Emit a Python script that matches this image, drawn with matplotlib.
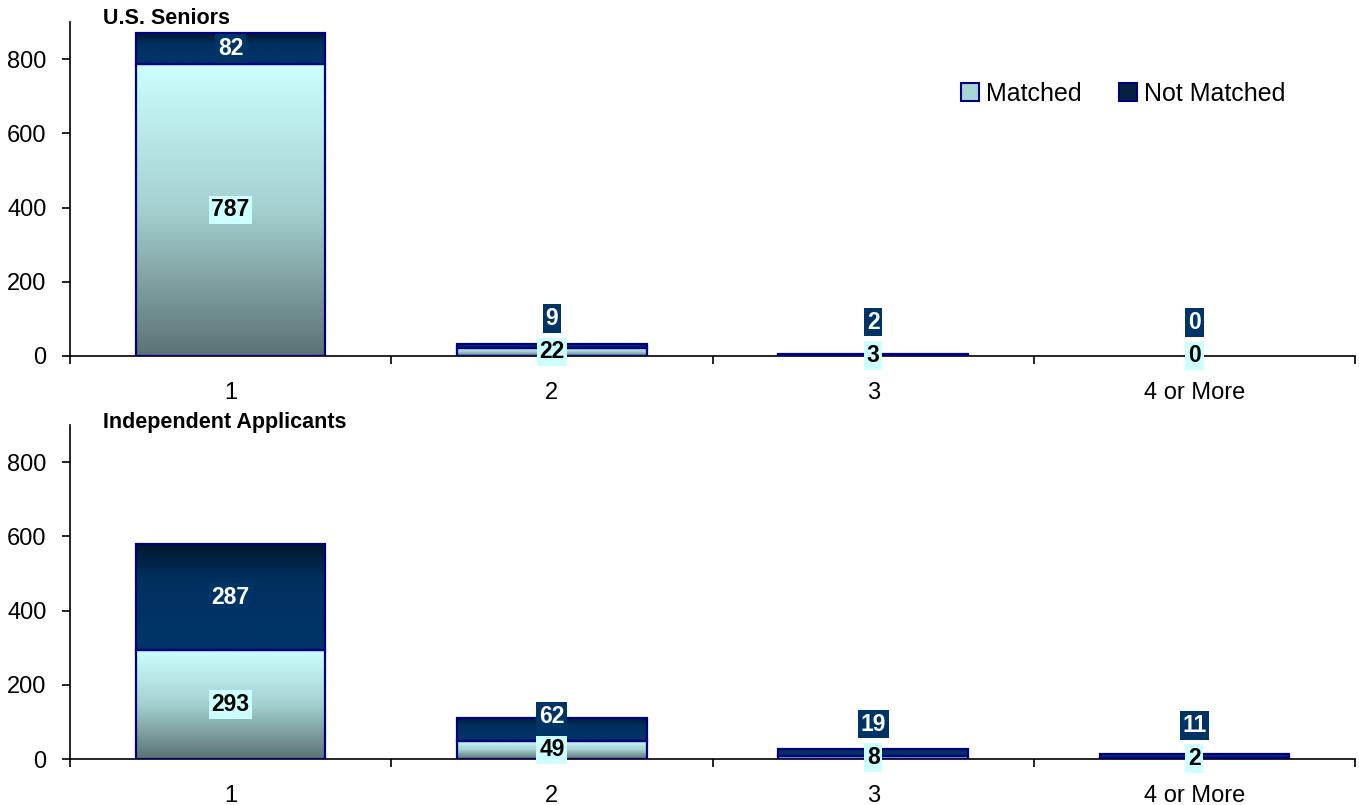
import matplotlib
matplotlib.use("Agg")
import matplotlib.pyplot as plt
import numpy as np
from matplotlib.colors import LinearSegmentedColormap
from matplotlib.patches import Patch

plt.rcParams["font.family"] = ["Liberation Sans", "DejaVu Sans"]

categories = ["1", "2", "3", "4 or More"]
panel_titles = ["U.S. Seniors", "Independent Applicants"]
matched = [[787, 22, 3, 0], [293, 49, 8, 2]]
not_matched = [[82, 9, 2, 0], [287, 62, 19, 11]]

matched_cmap = LinearSegmentedColormap.from_list("m", ["#5b7272", "#a4d0d0", "#ccffff"])
notm_cmap = LinearSegmentedColormap.from_list("n", ["#003366", "#003366", "#00305e", "#04172c"])
edge = "#000080"
grad = np.linspace(0, 1, 256).reshape(-1, 1)


def gradient_bars(ax, xs, bottoms, heights, cmap, width):
    bars = ax.bar(xs, heights, width, bottom=bottoms, facecolor="none",
                  edgecolor=edge, linewidth=1.6, zorder=3)
    for b, h in zip(bars, heights):
        if h <= 0:
            b.set_visible(False)
            continue
        x0, y0 = b.get_x(), b.get_y()
        ax.imshow(grad, extent=[x0, x0 + b.get_width(), y0, y0 + h],
                  origin="lower", aspect="auto", cmap=cmap, zorder=2,
                  interpolation="bilinear")
    return bars


fig = plt.figure(figsize=(13.59, 8.05), dpi=100)
ax_top = fig.add_axes([0.0515, 0.5578, 0.9456, 0.4149])
ax_bot = fig.add_axes([0.0515, 0.0571, 0.9456, 0.4149])

xs = np.arange(len(categories))
width = 0.59
ymax = 900
px_per_unit = 334 / ymax
lab_fs = 16.5

for ax, title, m, n in zip([ax_top, ax_bot], panel_titles, matched, not_matched):
    gradient_bars(ax, xs, [0] * len(m), m, matched_cmap, width)
    gradient_bars(ax, xs, m, n, notm_cmap, width)

    for x, mv, nv in zip(xs, m, n):
        ax.text(x, mv / 2, str(mv), ha="center", va="center", fontsize=lab_fs,
                fontweight="bold", color="black", zorder=5,
                bbox=dict(boxstyle="square,pad=0.12", fc="#ccffff", ec="none"))
        gap = (mv + nv / 2 - mv / 2) * px_per_unit
        if gap < 30:
            ax.annotate(str(nv), (x, mv / 2), xytext=(0, 24), textcoords="offset points",
                        ha="center", va="center", fontsize=lab_fs, fontweight="bold",
                        color="white", zorder=5,
                        bbox=dict(boxstyle="square,pad=0.12", fc="#003366", ec="none"))
        else:
            ax.text(x, mv + nv / 2, str(nv), ha="center", va="center", fontsize=lab_fs,
                    fontweight="bold", color="white", zorder=5,
                    bbox=dict(boxstyle="square,pad=0.12", fc="#003366", ec="none"))

    ax.set_xlim(-0.5, len(categories) - 0.5)
    ax.set_ylim(0, ymax)
    ax.set_yticks([0, 200, 400, 600, 800])
    ax.set_xticks(xs)
    ax.set_xticklabels(categories)
    ax.set_xticks(np.arange(-0.5, len(categories), 1), minor=True)
    ax.tick_params(axis="x", which="major", length=0, pad=19, labelsize=17)
    ax.tick_params(axis="x", which="minor", length=6, width=1.2, direction="out")
    ax.tick_params(axis="y", length=6, width=1.2, pad=11, labelsize=17)
    for s in ["top", "right"]:
        ax.spines[s].set_visible(False)
    for s in ["left", "bottom"]:
        ax.spines[s].set_linewidth(1.2)
    ax.text(0.026, 1.009, title, transform=ax.transAxes, ha="left", va="center",
            fontsize=15.5, fontweight="bold")

handles = [Patch(facecolor="#a8d4d4", edgecolor=edge, linewidth=1.5, label="Matched"),
           Patch(facecolor="#06203f", edgecolor=edge, linewidth=1.5, label="Not Matched")]
ax_top.legend(handles=handles, loc="center left", bbox_to_anchor=(0.676, 0.785),
              ncol=2, frameon=False, fontsize=18, handlelength=0.7, handleheight=0.7,
              handletextpad=0.3, columnspacing=1.5)

fig.savefig("out.png", dpi=100)
